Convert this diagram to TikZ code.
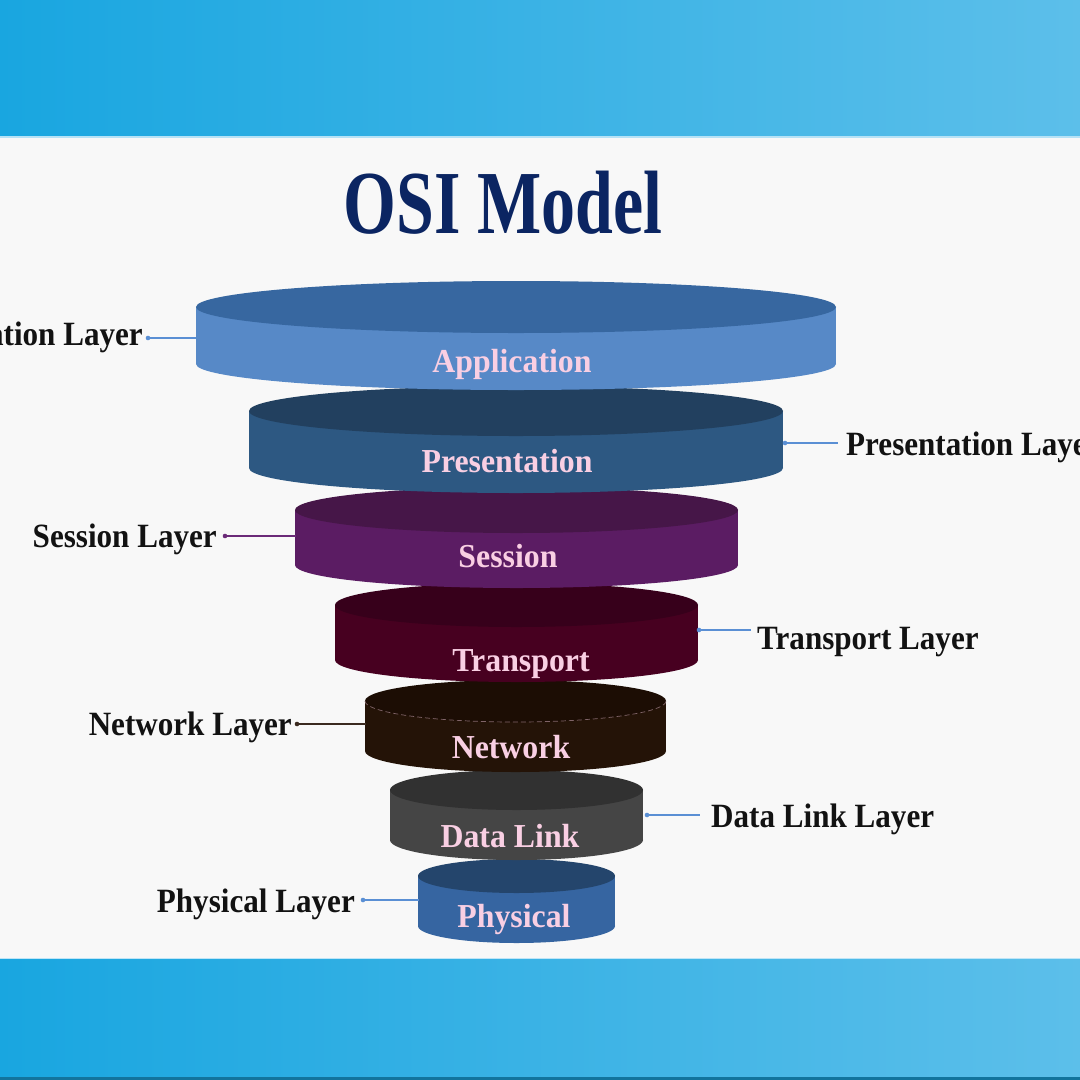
\documentclass[tikz,border=0pt]{standalone}
\usepackage{fontspec}
\newfontfamily\titlefont[FakeStretch=0.755]{Liberation Serif}
\newfontfamily\labelfont[FakeStretch=0.915]{Liberation Serif}
\newfontfamily\innerfont[FakeStretch=0.95]{Liberation Serif}
\definecolor{bandL}{HTML}{19A6E0}
\definecolor{bandR}{HTML}{5CBFEA}
\definecolor{bgc}{HTML}{F8F8F8}
\definecolor{titlec}{HTML}{0B2562}
\definecolor{pinkc}{HTML}{F9CFE3}
\definecolor{lineblue}{HTML}{5A8FD4}
\definecolor{linepurple}{HTML}{6B2A78}
\definecolor{linebrown}{HTML}{3B2A20}
\definecolor{apTop}{HTML}{3767A0}\definecolor{apSide}{HTML}{5789C7}
\definecolor{prTop}{HTML}{22405F}\definecolor{prSide}{HTML}{2D5882}
\definecolor{seTop}{HTML}{461648}\definecolor{seSide}{HTML}{5B1C63}
\definecolor{trTop}{HTML}{37001B}\definecolor{trSide}{HTML}{470020}
\definecolor{neTop}{HTML}{1C0D04}\definecolor{neSide}{HTML}{241307}
\definecolor{dlTop}{HTML}{313131}\definecolor{dlSide}{HTML}{454545}
\definecolor{phTop}{HTML}{24456C}\definecolor{phSide}{HTML}{3665A1}
% cx, top y, rx, ry, height, top colour, side colour
\newcommand{\osicyl}[7]{%
  \fill[#7] (#1-#3,#2) rectangle (#1+#3,#2+#5);
  \fill[#7] (#1,#2+#5) ellipse [x radius=#3, y radius=#4];
  \fill[#6] (#1,#2) ellipse [x radius=#3, y radius=#4];
}
\tikzset{
  innertext/.style={text=pinkc, font=\innerfont\bfseries\fontsize{33.5}{33.5}\selectfont, inner sep=0pt, anchor=base},
  layertext/.style={text=black!93, font=\labelfont\bfseries\fontsize{34}{34}\selectfont, inner sep=0pt},
  conn/.style={line width=1.3pt},
  dotc/.style={radius=2.3},
}
\begin{document}
\begin{tikzpicture}[x=1pt,y=-1pt]
\clip (0,0) rectangle (1080,1080);
\fill[bgc] (0,0) rectangle (1080,1080);
\shade[left color=bandL, right color=bandR] (0,0) rectangle (1080,136);
\fill[bandR!45!white] (0,136) rectangle (1080,138);
\shade[left color=bandL, right color=bandR] (0,959) rectangle (1080,1080);
\fill[bandR!40!white] (0,957.5) rectangle (1080,959);
\fill[bandL!70!black] (0,1077) rectangle (1080,1080);

% title
\node[text=titlec, font=\titlefont\bfseries\fontsize{90}{90}\selectfont, anchor=base, inner sep=0pt] (title) at (503,233) {OSI Model};

% cylinders, from the bottom up
\osicyl{516.5}{876}{98.5}{17}{50}{phTop}{phSide}
\osicyl{516.5}{790}{126.5}{20}{50}{dlTop}{dlSide}
\osicyl{515.5}{701}{150.5}{21}{50}{neTop}{neSide}
\draw[pinkc!45!neTop, line width=0.7pt, dash pattern=on 5pt off 3pt] (365,701) arc[start angle=180, end angle=0, x radius=150.5, y radius=21];
\osicyl{516.5}{605}{181.5}{22}{55}{trTop}{trSide}
\osicyl{516.5}{510}{221.5}{23}{55}{seTop}{seSide}
\osicyl{516}{411}{267}{25}{57}{prTop}{prSide}
\osicyl{516}{307}{320}{26}{57}{apTop}{apSide}

% texts inside
\node[innertext] (ap) at (512,372) {Application};
\node[innertext] (pr) at (507,472) {Presentation};
\node[innertext] (se) at (508,567) {Session};
\node[innertext] (tr) at (521,671) {Transport};
\node[innertext] (ne) at (511,758) {Network};
\node[innertext] (dl) at (510,847) {Data Link};
\node[innertext] (ph) at (514,927) {Physical};

% labels
\node[layertext, anchor=base east] (apL) at (143,345) {Application Layer};
\node[layertext, anchor=base west] (prL) at (846,455) {Presentation Layer};
\node[layertext, anchor=base east] (seL) at (217,547) {Session Layer};
\node[layertext, anchor=base west] (trL) at (757,649) {Transport Layer};
\node[layertext, anchor=base east] (neL) at (292,735) {Network Layer};
\node[layertext, anchor=base west] (dlL) at (711,827) {Data Link Layer};
\node[layertext, anchor=base east] (phL) at (355,912) {Physical Layer};

% connector end points
\coordinate (apD) at (148,338); \coordinate (apC) at (196,338);
\coordinate (prD) at (785,443); \coordinate (prC) at (838,443);
\coordinate (seD) at (225,536); \coordinate (seC) at (296,536);
\coordinate (trD) at (699,630); \coordinate (trC) at (751,630);
\coordinate (neD) at (297,724); \coordinate (neC) at (366,724);
\coordinate (dlD) at (647,815); \coordinate (dlC) at (700,815);
\coordinate (phD) at (363,900); \coordinate (phC) at (419,900);

\draw[conn, lineblue] (apD) -- (apC); \fill[lineblue] (apD) circle [dotc];
\draw[conn, lineblue] (prD) -- (prC); \fill[lineblue] (prD) circle [dotc];
\draw[conn, linepurple] (seD) -- (seC); \fill[linepurple] (seD) circle [dotc];
\draw[conn, lineblue] (trD) -- (trC); \fill[lineblue] (trD) circle [dotc];
\draw[conn, linebrown] (neD) -- (neC); \fill[linebrown] (neD) circle [dotc];
\draw[conn, lineblue] (dlD) -- (dlC); \fill[lineblue] (dlD) circle [dotc];
\draw[conn, lineblue] (phD) -- (phC); \fill[lineblue] (phD) circle [dotc];
\end{tikzpicture}
\end{document}
